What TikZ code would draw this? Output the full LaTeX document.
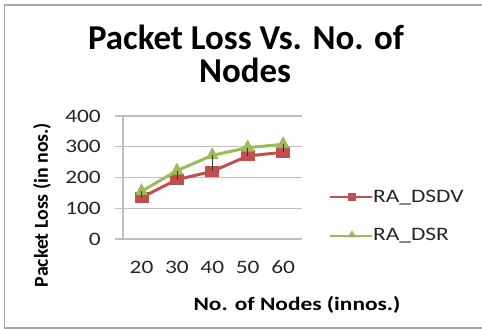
\documentclass[tikz,border=0pt]{standalone}
\usepackage{fontspec}
\setmainfont{Carlito}
\newfontfamily\stretchfont{Carlito}[FakeStretch=1.23]
\usetikzlibrary{shapes.geometric}
\definecolor{dsdv}{HTML}{C0504D}
\definecolor{dsr}{HTML}{9BBB59}
\definecolor{gridc}{HTML}{BFBFBF}
\definecolor{framec}{HTML}{A6A6A6}
\begin{document}
\begin{tikzpicture}[x=1pt,y=-1pt,
  lbl/.style={inner sep=0pt, font=\stretchfont\fontsize{19}{19}\selectfont, text=black!85},
  boldlbl/.style={inner sep=0pt, font=\bfseries\stretchfont\fontsize{19}{19}\selectfont},
  titletext/.style={inner sep=0pt, font=\bfseries\fontsize{34.9}{35}\selectfont},
  gridline/.style={draw=gridc, line width=1.3pt},
  sqmark/.style={rectangle, fill=dsdv, minimum width=14pt, minimum height=11pt, inner sep=0pt},
  trimark/.style={isosceles triangle, shape border rotate=90, isosceles triangle apex angle=60, fill=dsr, minimum height=12pt, minimum width=13pt, inner sep=0pt, isosceles triangle stretches},
  lsqmark/.style={rectangle, fill=dsdv, minimum width=8pt, minimum height=8pt, inner sep=0pt},
  ltrimark/.style={isosceles triangle, shape border rotate=90, fill=dsr, minimum height=7pt, minimum width=9pt, inner sep=0pt, isosceles triangle stretches},
  dsdvline/.style={draw=dsdv, line width=3pt},
  dsrline/.style={draw=dsr, line width=3pt},
  hiloline/.style={draw=black!80, line width=0.8pt}
]
\useasboundingbox (0,0) rectangle (482,329);
\fill[white] (0,0) rectangle (482,329);
% frame
\draw[framec, line width=1.6pt] (482,5) -- (4.5,5) -- (4.5,328) -- (482,328);
% title
\node[titletext, anchor=base] (t1) at (246,50) {Packet Loss Vs. No. of};
\node[titletext, anchor=base] (t2) at (245,83) {Nodes};
% grid
\foreach \v/\n in {0/g0,100/g1,200/g2,300/g3,400/g4}{
  \coordinate (\n L) at (115,{239-0.3075*\v});
  \coordinate (\n R) at (302,{239-0.3075*\v});
  \draw[gridline] (\n L) -- (\n R);
  \node[lbl, anchor=east] (tick\v) at (101,{239-0.3075*\v}) {\v};
}
\coordinate (axT) at (123,116);
\coordinate (axB) at (123,239);
\draw[gridline] (axT) -- (axB);
% x tick labels
\foreach \c [count=\i from 0] in {20,30,40,50,60}{
  \node[lbl, anchor=base] (x\c) at ({141.5+35.4*\i},273) {\c};
}
% data points
\foreach \i/\a/\b in {0/135/155,1/193/222,2/220/272,3/270/297,4/282/308}{
  \coordinate (p\i) at ({141.5+35.4*\i},{239-0.3075*\a});
  \coordinate (q\i) at ({141.5+35.4*\i},{239-0.3075*\b});
}
\draw[dsdvline, line join=round] (p0) -- (p1) -- (p2) -- (p3) -- (p4);
\foreach \i in {0,...,4}{ \node[sqmark] (sq\i) at (p\i) {}; }
\draw[dsrline, line join=round] (q0) -- (q1) -- (q2) -- (q3) -- (q4);
\foreach \i in {0,...,4}{ \node[trimark] (tr\i) at (q\i) {}; }
\foreach \i in {0,...,4}{ \draw[hiloline] (q\i) -- (p\i); }
% axis titles
\node[boldlbl, anchor=base] (xt) at (297,310) {No. of Nodes (innos.)};
\node[inner sep=0pt, font=\bfseries\fontsize{19.8}{20}\selectfont, rotate=90] (yt) at (42,205) {Packet Loss (in nos.)};
% legend
\coordinate (l1a) at (330,197);
\coordinate (l1b) at (372,197);
\coordinate (l2a) at (330,236);
\coordinate (l2b) at (372,236);
\draw[draw=dsdv, line width=2.5pt] (l1a) -- (l1b);
\node[lsqmark] (lm1) at (352,197) {};
\draw[draw=dsr, line width=2.5pt] (l2a) -- (l2b);
\node[ltrimark] (lm2) at (352,235) {};
\node[lbl, anchor=base west] (lg1) at (373,202) {RA\_DSDV};
\node[lbl, anchor=base west] (lg2) at (373,240) {RA\_DSR};
\end{tikzpicture}
\end{document}
